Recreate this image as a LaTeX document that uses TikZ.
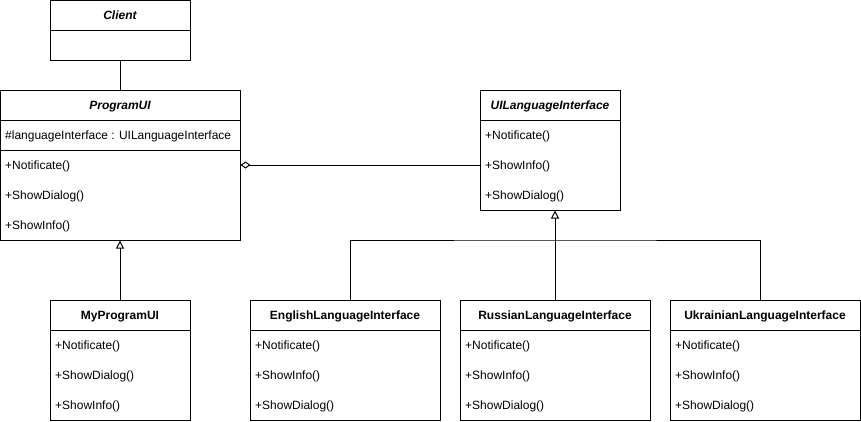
\documentclass[tikz,border=0pt]{standalone}
\usepackage{fontspec}
\setmainfont{Liberation Sans}
\usetikzlibrary{arrows.meta}

\tikzset{
    cls/.style={draw, line width=1pt, inner sep=0pt},
    head/.style={inner sep=0pt, text height=8.5pt, text depth=0pt, font=\fontsize{12}{14}\selectfont\bfseries},
    memb/.style={anchor=west, inner sep=0pt, text height=8.5pt, text depth=0pt, font=\fontsize{12}{14}\selectfont},
    sep/.style={line width=1pt},
    inherit/.style={line width=1pt, -{Triangle[open, length=8pt, width=8pt]}},
    aggr/.style={line width=1pt, {Diamond[open, length=10pt, width=7pt]}-}
}

\begin{document}
\begin{tikzpicture}[x=1pt, y=-1pt]
    \useasboundingbox (0,0) rectangle (861,421);

    %% Client
    \node[cls, minimum width=140pt, minimum height=60pt] (client) at (120,30) {};
    \draw[sep] (50,30) -- (190,30);
    \node[head] (clientname) at (120,15) {\itshape Client};

    %% ProgramUI
    \node[cls, minimum width=240pt, minimum height=150pt] (pui) at (120,165) {};
    \draw[sep] (0,120) -- (240,120);
    \draw[sep] (0,150) -- (240,150);
    \node[head] (puiname) at (120,105) {\itshape ProgramUI};
    \node[memb] (puiattr) at (5,135) {\#languageInterface : UILanguageInterface};
    \node[memb] (puinotify) at (5,165) {+Notificate()};
    \node[memb] (puidialog) at (5,195) {+ShowDialog()};
    \node[memb] (puiinfo) at (5,225) {+ShowInfo()};

    %% UILanguageInterface
    \node[cls, minimum width=140pt, minimum height=120pt] (uli) at (550,150) {};
    \draw[sep] (480,120) -- (620,120);
    \node[head] (uliname) at (550,105) {\itshape UILanguageInterface};
    \node[memb] (ulinotify) at (485,135) {+Notificate()};
    \node[memb] (uliinfo) at (485,165) {+ShowInfo()};
    \node[memb] (ulidialog) at (485,195) {+ShowDialog()};

    %% MyProgramUI
    \node[cls, minimum width=140pt, minimum height=120pt] (mypui) at (120,360) {};
    \draw[sep] (50,330) -- (190,330);
    \node[head] (mypuiname) at (120,315) {MyProgramUI};
    \node[memb] (mypuinotify) at (55,345) {+Notificate()};
    \node[memb] (mypuidialog) at (55,375) {+ShowDialog()};
    \node[memb] (mypuiinfo) at (55,405) {+ShowInfo()};

    %% English
    \node[cls, minimum width=190pt, minimum height=120pt] (eng) at (345,360) {};
    \draw[sep] (250,330) -- (440,330);
    \node[head] (engname) at (345,315) {EnglishLanguageInterface};
    \node[memb] (engnotify) at (255,345) {+Notificate()};
    \node[memb] (enginfo) at (255,375) {+ShowInfo()};
    \node[memb] (engdialog) at (255,405) {+ShowDialog()};

    %% Russian
    \node[cls, minimum width=190pt, minimum height=120pt] (rus) at (555,360) {};
    \draw[sep] (460,330) -- (650,330);
    \node[head] (rusname) at (555,315) {RussianLanguageInterface};
    \node[memb] (rusnotify) at (465,345) {+Notificate()};
    \node[memb] (rusinfo) at (465,375) {+ShowInfo()};
    \node[memb] (rusdialog) at (465,405) {+ShowDialog()};

    %% Ukrainian
    \node[cls, minimum width=190pt, minimum height=120pt] (ukr) at (765,360) {};
    \draw[sep] (670,330) -- (860,330);
    \node[head] (ukrname) at (765,315) {UkrainianLanguageInterface};
    \node[memb] (ukrnotify) at (675,345) {+Notificate()};
    \node[memb] (ukrinfo) at (675,375) {+ShowInfo()};
    \node[memb] (ukrdialog) at (675,405) {+ShowDialog()};

    %% connectors
    \draw[sep] (client.south) -- (pui.north);
    \draw[aggr] (pui.east) -- (uli.west |- pui.east);
    \draw[inherit] (mypui.north) -- (pui.south);
    \draw[inherit] (rus.north) -- (rus.north |- uli.south);
    \coordinate (bus) at (555,240);
    \draw[sep] ([xshift=5pt]eng.north) |- (bus) -| ([xshift=-5pt]ukr.north);
\end{tikzpicture}
\end{document}
